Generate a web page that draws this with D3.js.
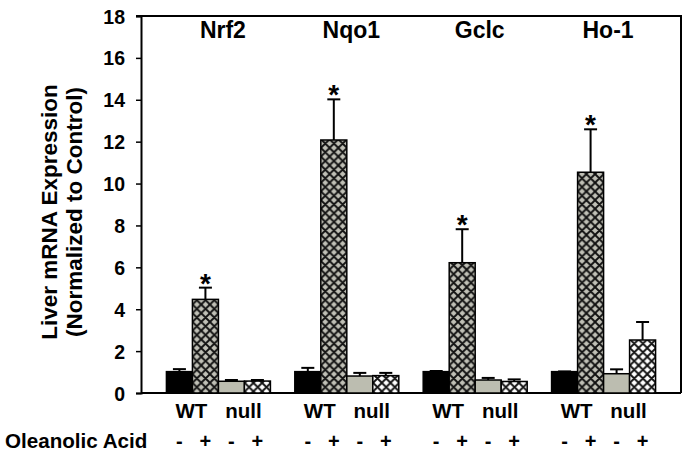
<!DOCTYPE html>
<html><head><meta charset="utf-8">
<script src="https://cdn.jsdelivr.net/npm/d3@7"></script>
<style>body{margin:0;background:#fff}svg{display:block}text{font-family:"Liberation Sans",Arial,sans-serif;font-weight:bold;fill:#000}</style>
</head><body><svg id="c" width="688" height="455"></svg>
<script>
const genes = ["Nrf2","Nqo1","Gclc","Ho-1"];
const groups = ["WT-","WT+","null-","null+"];
const values = {
  "Nrf2":[1.02,4.47,0.56,0.57],
  "Nqo1":[1.02,12.08,0.81,0.83],
  "Gclc":[1.02,6.22,0.62,0.55],
  "Ho-1":[1.02,10.54,0.92,2.53]
};
const errTops = {
  "Nrf2":[1.14,5.03,0.62,0.62],
  "Nqo1":[1.2,14.02,0.96,0.96],
  "Gclc":[1.05,7.82,0.72,0.65],
  "Ho-1":[1.03,12.59,1.13,3.39]
};
const significant = {"Nrf2":[false,true,false,false],"Nqo1":[false,true,false,false],"Gclc":[false,true,false,false],"Ho-1":[false,true,false,false]};
const yTicks = [0,2,4,6,8,10,12,14,16,18];
const genotypeLabels = ["WT","null"];
const treatmentSigns = ["-","+","-","+"];
const yTitle = ["Liver mRNA Expression","(Normalized to Control)"];
const treatmentTitle = "Oleanolic Acid";

const svg = d3.select("#c");
const L=141,R=681,T=16,B=393;
const y = d3.scaleLinear().domain([0,18]).range([B,T]);
const x0 = d3.scaleBand().domain(genes).range([L,R]).paddingInner(0.19).paddingOuter(0.198);
const x1 = d3.scaleBand().domain(groups).range([0,x0.bandwidth()]);

const defs = svg.append("defs");
function pat(id,bg){
  const s = 8.7;
  const p = defs.append("pattern").attr("id",id).attr("patternUnits","userSpaceOnUse").attr("width",s).attr("height",s);
  p.append("rect").attr("width",s).attr("height",s).attr("fill",bg);
  p.append("path").attr("d",`M0,0L${s},${s}M${s},0L0,${s}M-1,${s-1}L1,${s+1}M${s-1},-1L${s+1},1M${s-1},${s+1}L${s+1},${s-1}M-1,1L1,-1`).attr("stroke","#111").attr("stroke-width",1.9);
}
pat("hg","#c0c0b6"); pat("hw","#ffffff");
const fills = ["#000","url(#hg)","#bcbdb0","url(#hw)"];

// frame
svg.append("path").attr("d",`M${L-5},${T}H${R}V${B}`).attr("fill","none").attr("stroke","#000").attr("stroke-width",2);

// axis
const ax = svg.append("g").attr("transform",`translate(${L},0)`).call(d3.axisLeft(y).tickValues(yTicks).tickSize(5).tickPadding(11));
ax.select(".domain").attr("stroke-width",2);
ax.selectAll(".tick line").attr("stroke-width",1.5);
ax.selectAll("text").attr("font-size",19.5).attr("dy","0.36em").style("font-family",'"Liberation Sans",Arial,sans-serif').style("font-weight","bold");
svg.append("line").attr("x1",L).attr("x2",R).attr("y1",B).attr("y2",B).attr("stroke","#000").attr("stroke-width",2);

genes.forEach(g=>{
  const gx = x0(g);
  const G = svg.append("g").attr("transform",`translate(${gx},0)`);
  groups.forEach((k,i)=>{
    const bx = x1(k), bw = x1.bandwidth(), cx = bx+bw/2;
    const et = y(errTops[g][i]);
    G.append("line").attr("x1",cx).attr("x2",cx).attr("y1",y(values[g][i])).attr("y2",et).attr("stroke","#000").attr("stroke-width",2);
    G.append("line").attr("x1",cx-6.5).attr("x2",cx+6.5).attr("y1",et).attr("y2",et).attr("stroke","#000").attr("stroke-width",2);
    G.append("rect").attr("x",bx).attr("width",bw).attr("y",y(values[g][i])).attr("height",B-y(values[g][i]))
      .attr("fill",fills[i]).attr("stroke","#000").attr("stroke-width",1.5);
    if(significant[g][i]) G.append("text").attr("x",cx).attr("y",et+5).attr("text-anchor","middle").attr("font-size",28).text("*");
    G.append("text").attr("x",cx).attr("y",448).attr("text-anchor","middle").attr("font-size",20).text(treatmentSigns[i]);
  });
  genotypeLabels.forEach((lab,j)=>{
    const mx = x1(groups[j*2+1]) - 1;
    G.append("text").attr("x",mx).attr("y",418).attr("text-anchor","middle").attr("font-size",20.5).text(lab);
  });
  G.append("text").attr("x",x0.bandwidth()/2+4.5).attr("y",38).attr("text-anchor","middle").attr("font-size",23).text(g);
});

yTitle.forEach((t,i)=>{
  svg.append("text").attr("transform",`translate(${57+i*25},212) rotate(-90)`).attr("text-anchor","middle").attr("font-size",22.5).text(t);
});
svg.append("text").attr("x",5).attr("y",448).attr("font-size",20.6).text(treatmentTitle);
</script></body></html>
